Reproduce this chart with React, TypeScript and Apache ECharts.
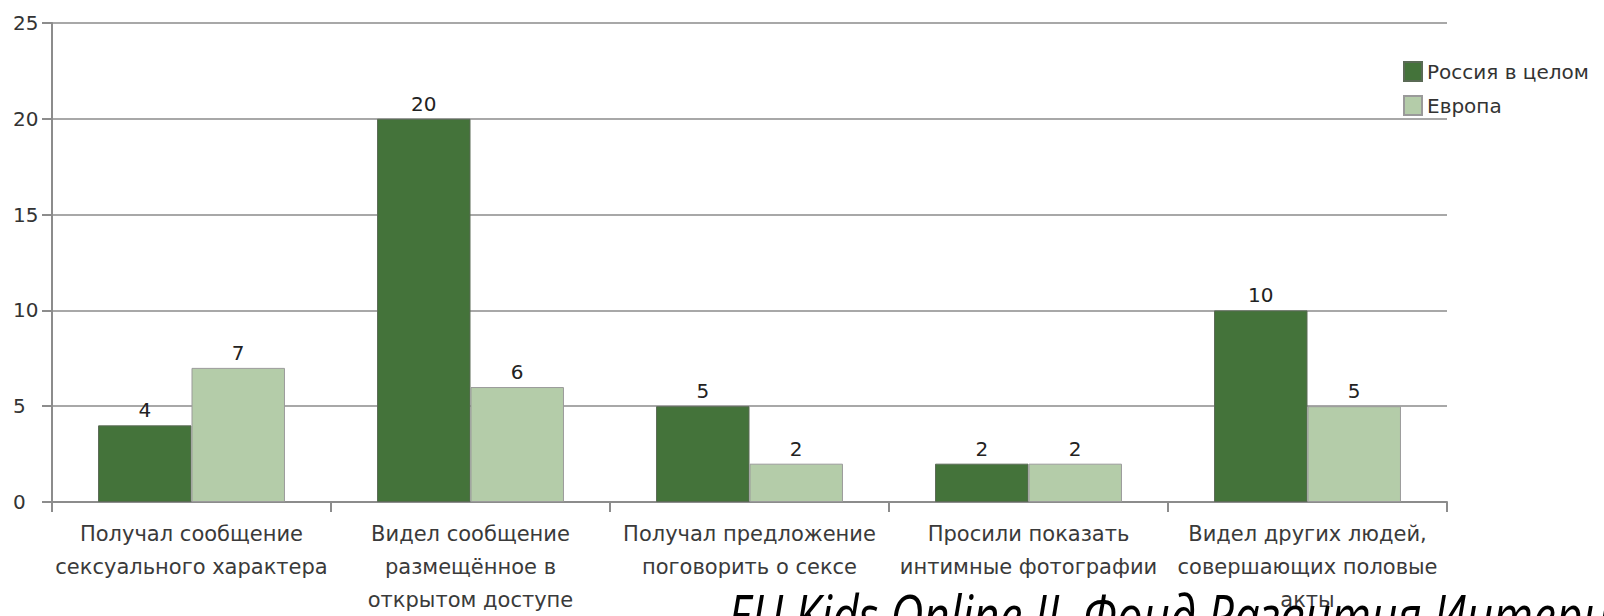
import React, { useEffect, useRef } from "react";
import * as echarts from "echarts";

const categories = [
  "Получал сообщение\nсексуального характера",
  "Видел сообщение\nразмещённое в\nоткрытом доступе",
  "Получал предложение\nпоговорить о сексе",
  "Просили показать\nинтимные фотографии",
  "Видел других людей,\nсовершающих половые\nакты",
];
const russia = [4, 20, 5, 2, 10];
const europe = [7, 6, 2, 2, 5];
const seriesNames = ["Россия в целом", "Европа"];
const sourceText = "EU Kids Online II, Фонд Развития Интернет";

export default function App() {
  const ref = useRef<HTMLDivElement>(null);
  useEffect(() => {
    document.body.style.margin = "0";
    const chart = echarts.init(ref.current!, null, { renderer: "svg" });
    const labelStyle = {
      show: true,
      position: "top",
      distance: 5,
      color: "#222",
      fontFamily: "DejaVu Sans",
      fontSize: 20,
    };
    chart.setOption({
      animation: false,
      backgroundColor: "#fff",
      textStyle: { fontFamily: "DejaVu Sans" },
      grid: { left: 52, right: 157, top: 23, bottom: 111, containLabel: false },
      legend: {
        orient: "vertical",
        left: 1398,
        top: 56,
        itemWidth: 18,
        itemHeight: 19,
        itemGap: 13,
        icon: "rect",
        textStyle: { fontFamily: "DejaVu Sans", fontSize: 20, color: "#333" },
        data: seriesNames,
      },
      xAxis: {
        type: "category",
        data: categories,
        axisLine: { show: true, lineStyle: { color: "#8c8c8c", width: 2 } },
        axisTick: { show: true, length: 10, lineStyle: { color: "#8c8c8c", width: 2 } },
        axisLabel: {
          interval: 0,
          margin: 15,
          fontFamily: "DejaVu Sans",
          fontSize: 21,
          lineHeight: 33,
          color: "#3a3a3a",
        },
      },
      yAxis: {
        type: "value",
        min: 0,
        max: 25,
        interval: 5,
        axisLine: { show: true, lineStyle: { color: "#8c8c8c", width: 2 } },
        axisTick: { show: true, length: 10, lineStyle: { color: "#8c8c8c", width: 2 } },
        splitLine: { show: true, lineStyle: { color: "#a8a8a8", width: 2 } },
        axisLabel: {
          align: "left",
          margin: 39,
          fontFamily: "DejaVu Sans",
          fontSize: 20,
          color: "#333",
        },
      },
      series: [
        {
          name: seriesNames[0],
          type: "bar",
          data: russia,
          barGap: "0%",
          barCategoryGap: "33%",
          itemStyle: { color: "#44733a", borderColor: "#5a6a55", borderWidth: 1 },
          label: labelStyle,
        },
        {
          name: seriesNames[1],
          type: "bar",
          data: europe,
          barGap: "0%",
          barCategoryGap: "33%",
          itemStyle: { color: "#b4cca9", borderColor: "#9a9a9a", borderWidth: 1 },
          label: labelStyle,
        },
      ],
      graphic: [
        {
          type: "text",
          x: 728,
          y: 614,
          scaleX: 0.82,
          z: 100,
          style: {
            text: sourceText,
            x: 0,
            y: 0,
            textAlign: "left",
            textVerticalAlign: "middle",
            font: 'italic 56px "Open Sans"',
            fill: "#000",
          },
        },
      ],
    });
    return () => chart.dispose();
  }, []);
  return <div ref={ref} style={{ width: 1604, height: 616 }} />;
}
